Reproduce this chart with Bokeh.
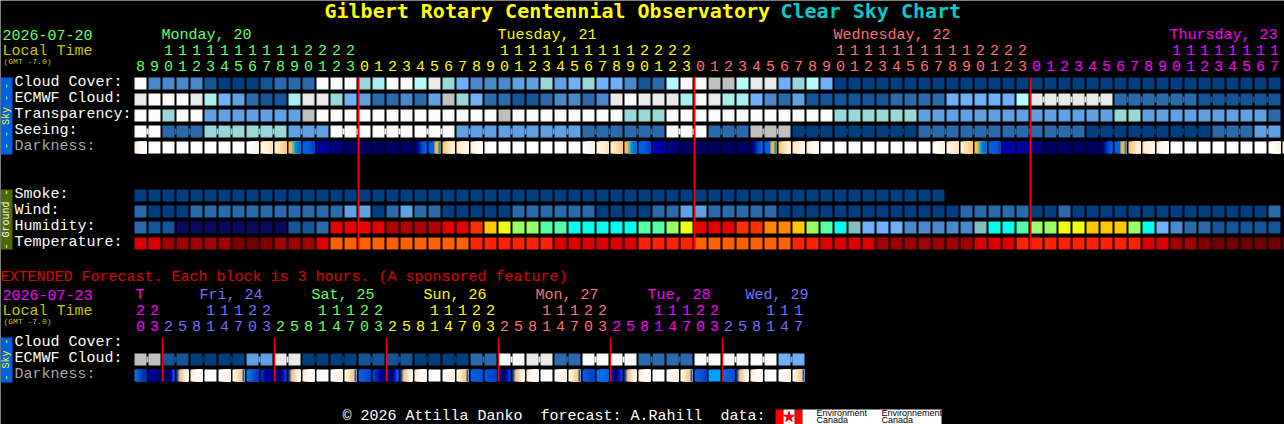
from bokeh.plotting import figure
from bokeh.models import Range1d
from bokeh.embed import file_html
from bokeh.resources import INLINE
from bokeh.core.properties import value
import math

# ---------- data ----------
cloud_cover = ("w n n n n d D D D d o o o w w w t a w w c l t b n n n m m t m b t b b n d o c w w g g c l l b t c b "
               "D D D D D D D D D D D D D D D D D D D D D D D D D D D D D D D D").split()
ecmwf_cloud = ("l w w w l a b m o d d a l l t b m o o n o m g t b o o d d o n n o n l w l l l a w l a a b n o m d d d d "
               "d d o o o o b b b b b c l l l l l l o o o o o o d d d d d d").split()
transparency = ("w w t w w m m m m m m m g w w w w w w w w w w w w w g w w w w w w w w t t t w w w w w w w w w w w w t t "
                "t t t t m m m m m m m m m m m m m m t t m m m m m m m m m o").split()
seeing = ("w w o o o t t t t t t m m m w w w w w w w w w m m m m m m m m m o o o o o o w w w o o o g g g D D D D D D "
          "D D D o o o o o o o o o o o o D D D D D D D D D o o o m m").split()
darkness = ("Ca W W W W W W W Wc Wd Co S B1 N1 N2 N3 N3 N3 N3 N3 R1 R2 Oc Cr Ca W W W W W W W Wc Wd Co S B1 N0 N2 N3 N3 N3 N3 N3 "
            "R1 R2 Oc Cr Ca W W W W W W W W Wc Wd Co S B1 N0 N1 N2 N3 N3 N3 N3 R1 R2 Oc Cr Ca W W W W W W W Wc Wd").split()
seeing_runs = [2, 3, 3, 3, 3, 3, 3, 3, 3, 3, 3, 3, 3, 3, 3, 3, 3, 3, 3, 3, 3, 3, 3, 3, 3, 3, 3, 2]
ecmwf_runs = [1] * 64 + [6, 6, 6]

smoke = ["D"] * 58
wind = ("o D D D o o o o o o o o o o o m m D o m o o D D D D D o o o o o o D D D D o o m m o o o o o D D D D D D "
        "D D D D D D D o o o o o D D o D D D D D D D D D D D D D D o").split()
humidity = ("o d d v v v v v v v v d d o R R R R K K K K R R E Y L G G S S Q Q Q Q Q S S G L R R R E E A A Y G S Q T "
            "b b b n n n n n T Q Q S G G L L Y Y Y G Q b n o o d d d d d").split()
temperature = ("R R x x x x x y z y x x x R O O O O O O O O O O E E E E E E R R R R R R E E E E O O O O O O O E E R R R "
               "R x x x x x x x R R R E E E E E E E E E R R x x y z z z z z z").split()

ext_ecmwf = "g g d d D D D D m m l l D D D D d d d d D D D D o o w w l l o o w w w w o o o o w w w w w w b b".split()
ext_darkness = ("e0 e1 e2 e3 e4 W Wc e7 e8 e9 e10 e3 e4 W Wc e7 e16 e17 e18 e3 e4 W Wc e7 "
                "e24 e25 e26 e3 e4 W Wc e7 e32 e33 e34 e3 e4 W Wc e7 e40 e41 e42 e3 e4 W Wc e47").split()
ext_runs = [2] * 24

hours_main = list(range(8, 24)) + list(range(24)) + list(range(24)) + list(range(18))
hours_ext = [20, 23, 2, 5, 8, 11, 14, 17, 20, 23, 2, 5, 8, 11, 14, 17, 20, 23, 2, 5, 8, 11, 14, 17,
             20, 23, 2, 5, 8, 11, 14, 17, 20, 23, 2, 5, 8, 11, 14, 17, 20, 23, 2, 5, 8, 11, 14, 17]
main_day_labels = ["Monday, 20", "Tuesday, 21", "Wednesday, 22", "Thursday, 23"]
main_day_cols = [2, 26, 50, 74]
main_day_spans = [(0, 16), (16, 40), (40, 64), (64, 82)]
ext_day_labels = ["T", "Fri, 24", "Sat, 25", "Sun, 26", "Mon, 27", "Tue, 28", "Wed, 29"]
ext_day_cols = [0, 5, 13, 21, 29, 37, 44]
ext_day_spans = [(0, 2), (2, 10), (10, 18), (18, 26), (26, 34), (34, 42), (42, 48)]
midnight_cols = [16, 40, 64]
ext_midnight_cols = [2, 10, 18, 26, 34, 42]

# ---------- styles ----------
PAL = {"w": "#fbfbfb", "l": "#e9e9e9", "g": "#c0c0c0", "c": "#b5fbfb", "a": "#a8eeee", "t": "#98d8d8",
       "b": "#70b0fa", "m": "#60a0e4", "n": "#4a88cc", "o": "#2b6bad", "d": "#14559a", "D": "#003f80",
       "v": "#0a0a60", "R": "#e80000", "K": "#b00000", "E": "#ff3000", "A": "#ff8800", "Y": "#ffc800",
       "L": "#eeff11", "G": "#99ff66", "S": "#55ffaa", "Q": "#00ffee", "T": "#80c0c0",
       "O": "#ff6000", "x": "#a00000", "y": "#800000", "z": "#700000"}
PAL_TEMP = dict(PAL, E="#ff2200", R="#e00000")
STRIPES = {
    "W": ["#ffffff"],
    "Ca": ["#fff0e0", "#fff4e8", "#fff8f0", "#fffcf8", "#ffffff", "#ffffff"],
    "Cr": ["#ffe8cc", "#ffecd4", "#fff0dc", "#fff2e0", "#fff4e8", "#fff6ec"],
    "Wc": ["#ffffff", "#fffdfa", "#fffaf4", "#fff8ee", "#fff4e6", "#fff0e0"],
    "Wd": ["#fff8f0", "#fff4e6", "#fff0dc", "#ffecd4", "#ffe8c8", "#ffe0b8"],
    "Co": ["#fff0d8", "#ffe8c8", "#ffe0b0", "#ffd8a0", "#ffd090", "#ffc880"],
    "Oc": ["#ffc880", "#ffd090", "#ffdca8", "#ffe4bc", "#ffecd0", "#fff0dc"],
    "S": ["#ffc070", "#f0b050", "#40c0a0", "#0090e0", "#0070e0", "#0068e0"],
    "B1": ["#0060e0", "#0060e0", "#0060e0", "#0058d8", "#0050d0", "#0040c0"],
    "N0": ["#0000c0", "#0000b8", "#0000b0", "#0000b0", "#0000a8", "#0000a0"],
    "N1": ["#0000a8", "#0000a0", "#0000a0", "#000098", "#000098", "#000090"],
    "N2": ["#000088", "#000080", "#000080", "#000078", "#000078", "#000070"],
    "N3": ["#000068", "#000060", "#000060", "#000060", "#000060", "#000060"],
    "R1": ["#000070", "#000090", "#0020a8", "#0040c0", "#0058d8", "#0060e0"],
    "R2": ["#0060e0", "#0060e0", "#0060e0", "#ffb030", "#ffb030", "#0090e0"],
    "e0": ["#0078e8", "#0060d8", "#0050c8", "#0040b8", "#0030a8", "#0028a0"],
    "e1": ["#0000a8", "#000098", "#000090", "#000080", "#000078", "#000070"],
    "e2": ["#000060", "#000060", "#000068", "#000070", "#0000a0", "#0060e0"],
    "e3": ["#0058d8", "#ffb860", "#ffd090", "#ffe4c0", "#fff0dc", "#fff8f0"],
    "e4": ["#fff0dc", "#fff4e6", "#fff8f0", "#fffcf8", "#ffffff", "#ffffff"],
    "e7": ["#ffffff", "#fff0dc", "#ffe0b0", "#ffd090", "#ffc880", "#0060e0"],
    "e8": ["#0078e8", "#0070e0", "#0060d8", "#0050d0", "#0040c8", "#0038c0"],
    "e9": ["#0030b0", "#0020a8", "#0000a0", "#000098", "#000090", "#000088"],
    "e10": ["#000060", "#000060", "#000070", "#0000a0", "#0020b0", "#0040c0"],
    "e16": ["#0060e0", "#0060e0", "#0058d8", "#0050d0", "#0048c8", "#0040c0"],
    "e17": ["#0040c0", "#0030b0", "#0020a0", "#000098", "#000090", "#000088"],
    "e18": ["#000060", "#000060", "#000070", "#0000a0", "#0030c0", "#0060e0"],
    "e24": ["#0060e0", "#0060e0", "#0058d8", "#0058d0", "#0050c8", "#0050c8"],
    "e25": ["#0050d0", "#0050d0", "#0048d0", "#0048d0", "#0040d0", "#0040d0"],
    "e26": ["#000070", "#000060", "#000060", "#0000a0", "#0020b0", "#0040c0"],
    "e32": ["#0060e0", "#0058d8", "#0050d0", "#0048c8", "#0040c0", "#0040c0"],
    "e33": ["#0070e8", "#0070e8", "#0070e8", "#0070e8", "#0068e0", "#0068e0"],
    "e34": ["#0030a0", "#000080", "#000070", "#000080", "#0020a0", "#0040c0"],
    "e40": ["#0060e0", "#0060e0", "#0058d8", "#0050d0", "#0048c8", "#0040c0"],
    "e41": ["#00a0ff"],
    "e42": ["#0070e8", "#0068e0", "#0060e0", "#0058d8", "#0050d0", "#0050d0"],
    "e47": ["#ffffff", "#fff0dc", "#ffe0b0", "#ffd090", "#ffc880", "#0060e0"],
}
GREEN, YELLOW, SALMON, MAGENTA, VIOLET = "#66ff66", "#ffff00", "#ff7070", "#ff00ff", "#7070ff"
OLIVE, BAR_BLUE, DIM_YELLOW, RED = "#4e6b00", "#0060e0", "#c8c800", "#ff0000"
MONO = "Liberation Mono"
TITLE_FONT = "DejaVu Sans Mono"
BASE_SHIFT = 0.37  # the svg text box sits lower than the requested baseline by this share of the font size

X0, PITCH, BLOCK = 134, 14, 12
main_rows_top = [77, 93, 109, 125, 141]
ground_rows_top = [189, 205, 221, 237]
ext_rows_top = [353, 369]

p = figure(width=1284, height=424, x_range=Range1d(0, 1284), y_range=Range1d(424, 0),
           output_backend="svg", toolbar_location=None, min_border=0,
           background_fill_color="#000000", border_fill_color="#000000", outline_line_color=None)
p.axis.visible = False
p.grid.visible = False
p.styles = {"position": "absolute", "left": "0px", "top": "0px"}


def cell_x(col):
    return X0 + col * PITCH


def blocks(codes, top, palette=PAL):
    lefts = [cell_x(i) for i in range(len(codes))]
    p.quad(left=lefts, right=[x + BLOCK for x in lefts], top=[top] * len(codes), bottom=[top + BLOCK] * len(codes),
           fill_color=[palette[c] for c in codes], line_color=None)


def joins(codes, runs, top, palette=PAL):
    col, left, color = 0, [], []
    for r in runs:
        for j in range(r - 1):
            left.append(cell_x(col + j) + BLOCK)
            color.append(palette[codes[col]])
        col += r
    if left:
        p.quad(left=left, right=[x + PITCH - BLOCK for x in left], top=[top + 3] * len(left),
               bottom=[top + 9] * len(left), fill_color=color, line_color=None)


def stripes(codes, top):
    L, R, C = [], [], []
    for i, code in enumerate(codes):
        st = STRIPES[code]
        w = BLOCK / len(st)
        for j, c in enumerate(st):
            L.append(cell_x(i) + j * w)
            R.append(cell_x(i) + BLOCK)  # each stripe runs to the block's edge, so no seam shows
            C.append(c)
    p.quad(left=L, right=R, top=[top] * len(L), bottom=[top + BLOCK] * len(L), fill_color=C, line_color=None)


def label(x, y, s, color, size=15, align="left", style="normal", font=MONO, angle=0):
    yy = y if angle else y - BASE_SHIFT * size
    p.text(x=[x], y=[yy], text=[s], text_color=color, text_font=value(font), text_font_size=f"{size}px",
           text_align=align, text_baseline="alphabetic", text_font_style=style, angle=angle)


# blocks
blocks(cloud_cover, main_rows_top[0])
blocks(ecmwf_cloud, main_rows_top[1])
joins(ecmwf_cloud, ecmwf_runs, main_rows_top[1])
blocks(transparency, main_rows_top[2])
blocks(seeing, main_rows_top[3])
joins(seeing, seeing_runs, main_rows_top[3])
stripes(darkness, main_rows_top[4])
blocks(smoke, ground_rows_top[0])
blocks(wind, ground_rows_top[1])
blocks(humidity, ground_rows_top[2])
blocks(temperature, ground_rows_top[3], PAL_TEMP)
blocks(ext_ecmwf, ext_rows_top[0])
joins(ext_ecmwf, ext_runs, ext_rows_top[0])
stripes(ext_darkness, ext_rows_top[1])

# midnight lines
xs = [cell_x(c) for c in midnight_cols]
p.quad(left=[x - 1 for x in xs], right=[x + 1 for x in xs], top=[77] * 3, bottom=[249] * 3, fill_color=RED, line_color=None)
xs = [cell_x(c) for c in ext_midnight_cols]
p.quad(left=[x - 0.75 for x in xs], right=[x + 0.75 for x in xs], top=[337] * 6, bottom=[381] * 6, fill_color=RED, line_color=None)

# side bars
p.quad(left=[0, 0, 0], right=[12, 12, 12], top=[77, 189, 337], bottom=[154, 249, 382],
       fill_color=[BAR_BLUE, OLIVE, BAR_BLUE], line_color=None)
label(6, 115.5, "- - Sky - -", YELLOW, size=10, align="center", angle=math.pi / 2)
label(6, 219, "- Ground -", "#ffffff", size=10, align="center", angle=math.pi / 2)
label(6, 359, "- Sky -", YELLOW, size=10, align="center", angle=math.pi / 2)

# title
label(324, 18, "Gilbert Rotary Centennial Observatory", YELLOW, size=20, style="bold", font=TITLE_FONT)
label(780, 18, "Clear Sky Chart", "#00cccc", size=20, style="bold", font=TITLE_FONT)

# header left
label(2, 40, "2026-07-20", GREEN)
label(2, 57, "Local Time", DIM_YELLOW)
label(3, 64, "(GMT -7.0)", DIM_YELLOW, size=8)

main_colors = [GREEN, YELLOW, SALMON, MAGENTA]
for name, col, span, color in zip(main_day_labels, main_day_cols, main_day_spans, main_colors):
    label(cell_x(col) - 1, 41, name, color)
    for c in range(*span):
        h = hours_main[c]
        label(cell_x(c) + BLOCK / 2, 71, str(h % 10), color, align="center")
        if h >= 10:
            label(cell_x(c) + BLOCK / 2, 55, str(h // 10), color, align="center")

# row labels
for s, y, color in [("Cloud Cover:", 88, "#ffffff"), ("ECMWF Cloud:", 104, "#ffffff"), ("Transparency:", 120, "#ffffff"),
                    ("Seeing:", 136, "#ffffff"), ("Darkness:", 152, "#a8a8a8"),
                    ("Smoke:", 200, "#ffffff"), ("Wind:", 216, "#ffffff"), ("Humidity:", 232, "#ffffff"),
                    ("Temperature:", 248, "#ffffff"),
                    ("Cloud Cover:", 348, "#ffffff"), ("ECMWF Cloud:", 364, "#ffffff"), ("Darkness:", 380, "#a8a8a8")]:
    label(14, y, s, color)

# extended
label(0, 283, "EXTENDED Forecast. Each block is 3 hours. (A sponsored feature)", "#e00000")
label(2, 300, "2026-07-23", MAGENTA)
label(2, 317, "Local Time", DIM_YELLOW)
label(3, 324, "(GMT -7.0)", DIM_YELLOW, size=8)
ext_colors = [MAGENTA, VIOLET, GREEN, YELLOW, SALMON, MAGENTA, VIOLET]
for name, col, span, color in zip(ext_day_labels, ext_day_cols, ext_day_spans, ext_colors):
    label(cell_x(col) + (1 if col == 0 else -5), 301, name, color)
    for c in range(*span):
        h = hours_ext[c]
        label(cell_x(c) + BLOCK / 2, 331, str(h % 10), color, align="center")
        if h >= 10:
            label(cell_x(c) + BLOCK / 2, 315, str(h // 10), color, align="center")

# footer
label(342, 422, "\u00a9 2026 Attilla Danko", "#ffffff")
label(540, 422, "forecast: A.Rahill", "#ffffff")
label(720, 422, "data:", "#ffffff")
p.quad(left=[775, 794, 783, 802], right=[783, 802, 794, 941], top=[409] * 4, bottom=[424] * 4,
       fill_color=["#ff0000", "#ff0000", "#ffffff", "#ffffff"], line_color=None)
p.scatter(x=[788.5], y=[416.5], marker="star", size=11, fill_color="#ff0000", line_color="#ff0000")
for x, a in [(816, "Environment"), (881, "Environnement")]:
    label(x, 416, a, "#000000", size=9, font="Liberation Sans")
    label(x, 423, "Canada", "#000000", size=9, font="Liberation Sans")

open("out.html", "w").write(file_html(p, INLINE))
